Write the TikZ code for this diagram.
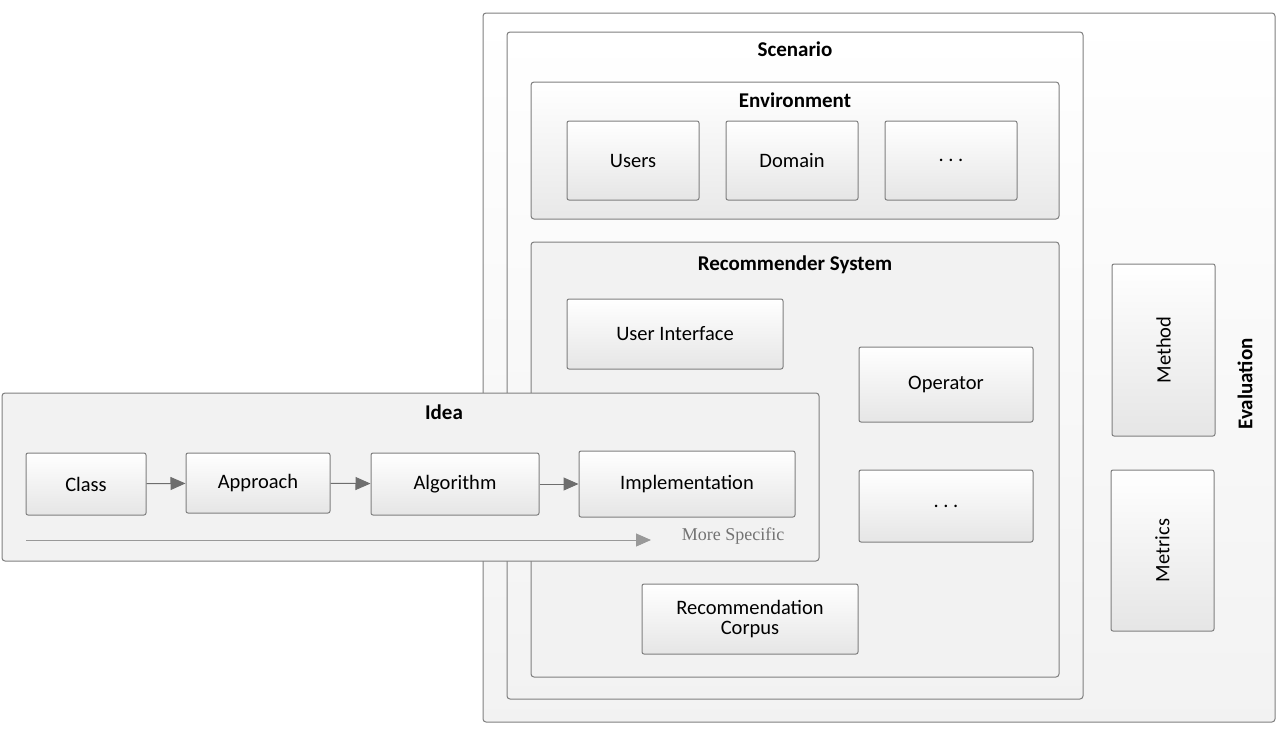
\documentclass[tikz,border=0pt]{standalone}
\usepackage{fontspec}
\setmainfont{Carlito}
\newfontfamily\timesf{Liberation Serif}
\usetikzlibrary{arrows.meta}
\definecolor{edge}{HTML}{7F7F7F}
\definecolor{arr}{HTML}{6E6E6E}
\tikzset{
  box/.style={draw=edge, line width=1pt, rounded corners=2pt, top color=white, bottom color=black!10,
    font=\fontsize{20.5}{23}\selectfont, align=center, inner sep=0pt},
  frame/.style={draw=edge, line width=1pt, rounded corners=3pt},
  ttl/.style={font=\fontsize{21}{23}\selectfont\bfseries, inner sep=0pt},
  flow/.style={draw=arr, line width=1pt, -{Triangle[length=15pt,width=13pt]}},
}
\begin{document}
\begin{tikzpicture}[x=1pt,y=-1pt]
\useasboundingbox (0,0) rectangle (1278,739);
% Evaluation
\draw[frame, top color=white, bottom color=black!5] (483,13) rectangle (1275,722);
\node[ttl, rotate=90] (evalt) at (1245,384) {Evaluation};
% Scenario
\draw[frame, top color=white, bottom color=black!5] (507,32) rectangle (1083,699);
\node[ttl] (scent) at (795,49) {Scenario};
% Environment
\draw[frame, top color=white, bottom color=black!9] (531,82) rectangle (1059,219);
\node[ttl] (envt) at (795,100) {Environment};
\node[box, minimum width=132, minimum height=79] (users) at (633,160.5) {Users};
\node[box, minimum width=132, minimum height=79] (domain) at (792,160.5) {Domain};
\node[box, minimum width=132, minimum height=79] (edots) at (951,160.5) {.\ .\ .};
% Recommender System
\draw[frame, fill=black!5] (531,242) rectangle (1059,677);
\node[ttl] (rst) at (795,265) {Recommender System};
\node[box, minimum width=216, minimum height=70] (ui) at (675,334) {User Interface};
\node[box, minimum width=174, minimum height=75] (op) at (946,384.5) {Operator};
\node[box, minimum width=174, minimum height=72] (rdots) at (946,506) {.\ .\ .};
\node[box, minimum width=216, minimum height=70] (corpus) at (750,619) {Recommendation\\[-3pt]Corpus};
% Evaluation items
\node[box, minimum width=172, minimum height=103, rotate=90] (method) at (1163.5,350) {Method};
\node[box, minimum width=161, minimum height=103, rotate=90] (metrics) at (1162.5,550.5) {Metrics};
% Idea
\draw[frame, fill=black!5] (2,393) rectangle (819,561);
\node[ttl] (ideat) at (444,412) {Idea};
\node[box, minimum width=120, minimum height=62] (class) at (86,484) {Class};
\node[box, minimum width=144, minimum height=60] (approach) at (258,483) {Approach};
\node[box, minimum width=168, minimum height=62] (algo) at (455,484) {Algorithm};
\node[box, minimum width=216, minimum height=66] (impl) at (687,484) {Implementation};
\draw[flow] (class) -- (approach);
\draw[flow] (approach) -- (algo);
\draw[flow] (algo) -- (impl);
\coordinate (ms0) at (26,540);
\coordinate (ms1) at (651,540);
\draw[flow, draw=black!40] (ms0) -- (ms1);
\node[font=\timesf\fontsize{18}{20}\selectfont, text=black!55, inner sep=0pt] (mst) at (733,536) {More Specific};
\end{tikzpicture}
\end{document}
